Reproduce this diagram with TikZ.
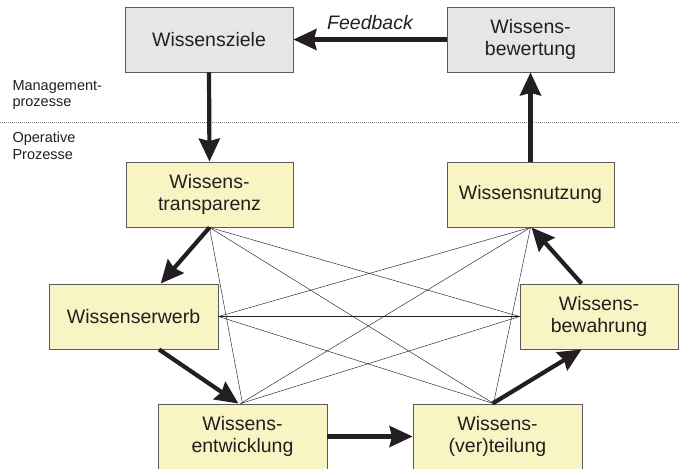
\documentclass[tikz,border=0pt]{standalone}
\usepackage{fontspec}
\setmainfont{Liberation Sans}
\usetikzlibrary{arrows.meta,calc}
\definecolor{boxyellow}{HTML}{F8F4C4}
\definecolor{boxgrey}{HTML}{E6E6E6}
\definecolor{boxline}{HTML}{5A5A5A}
\definecolor{ink}{HTML}{231F20}
\tikzset{
  stepbox/.style={draw=boxline, line width=0.9pt, fill=boxyellow, minimum height=65pt, align=center,
     inner sep=0pt, font=\fontsize{19.5}{22}\selectfont, text=ink},
  mgmtbox/.style={stepbox, fill=boxgrey},
  flow/.style={draw=ink, line width=4.2pt, -{Stealth[length=23pt,width=21pt,inset=2.5pt]}},
  link/.style={draw=ink, line width=0.45pt},
  side/.style={anchor=west, align=left, font=\fontsize{14.5}{16.5}\selectfont, text=ink}
}
\begin{document}
\begin{tikzpicture}[x=1pt,y=-1pt]
\useasboundingbox (0,0) rectangle (679,468);
\clip (0,0) rectangle (679,468);
% separator
\coordinate (sepl) at (0,122);
\coordinate (sepr) at (679,122);
\draw[gray, line width=0.6pt, dash pattern=on 1.2pt off 0.8pt] (sepl) -- (sepr);
\node[side] (mgmt) at (9,95) {Management-\\prozesse};
\node[side] (oper) at (9,146) {Operative\\Prozesse};
% boxes
\node[mgmtbox, minimum width=168pt] (ziele) at (209,39.5) {Wissensziele};
\node[mgmtbox, minimum width=167pt] (bewert) at (530.5,39.5) {Wissens-\\bewertung};
\node[stepbox, minimum width=167pt] (transp) at (209.5,194.5) {Wissens-\\transparenz};
\node[stepbox, minimum width=167pt] (nutz) at (530.5,194.5) {Wissensnutzung};
\node[stepbox, minimum width=169pt] (erwerb) at (133.5,316.5) {Wissenserwerb};
\node[stepbox, minimum width=158pt] (bewahr) at (599,316.5) {Wissens-\\bewahrung};
\node[stepbox, minimum width=169pt] (entw) at (242.5,436.5) {Wissens-\\entwicklung};
\node[stepbox, minimum width=169pt] (vert) at (497.5,436.5) {Wissens-\\(ver)teilung};
% thin links
\draw[link] (transp.south) -- (entw.north);
\draw[link] (transp.south) -- (bewahr.west);
\draw[link] (transp.south) -- ($(vert.north)+(-4,0)$);
\draw[link] (nutz.south) -- (erwerb.east);
\draw[link] (nutz.south) -- ($(entw.north)+(-2,0)$);
\draw[link] (nutz.south) -- ($(vert.north)+(-4,0)$);
\draw[link] (erwerb.east) -- (bewahr.west);
\draw[link] (erwerb.east) -- ($(vert.north)+(-4,0)$);
\draw[link] ($(entw.north)+(-2,0)$) -- (bewahr.west);
% feedback
\draw[flow] (bewert.west) -- node[above=4pt, font=\fontsize{19.5}{22}\selectfont\itshape, text=ink] (fb) {Feedback} (ziele.east);
% cycle arrows
\draw[flow] (ziele.south) -- (transp.north);
\draw[flow] (nutz.north) -- (bewert.south);
\draw[flow] (transp.south) -- ($(erwerb.north west)!0.66!(erwerb.north east)$);
\draw[flow] ($(erwerb.south west)!0.65!(erwerb.south east)$) -- ($(entw.north)+(-4,0)$);
\draw[flow] (entw.east) -- (vert.west);
\draw[flow] ($(vert.north)+(-5,0)$) -- ($(bewahr.south west)!0.39!(bewahr.south east)$);
\draw[flow] ($(bewahr.north west)!0.39!(bewahr.north east)$) -- ($(nutz.south)+(1,0)$);
\end{tikzpicture}
\end{document}
